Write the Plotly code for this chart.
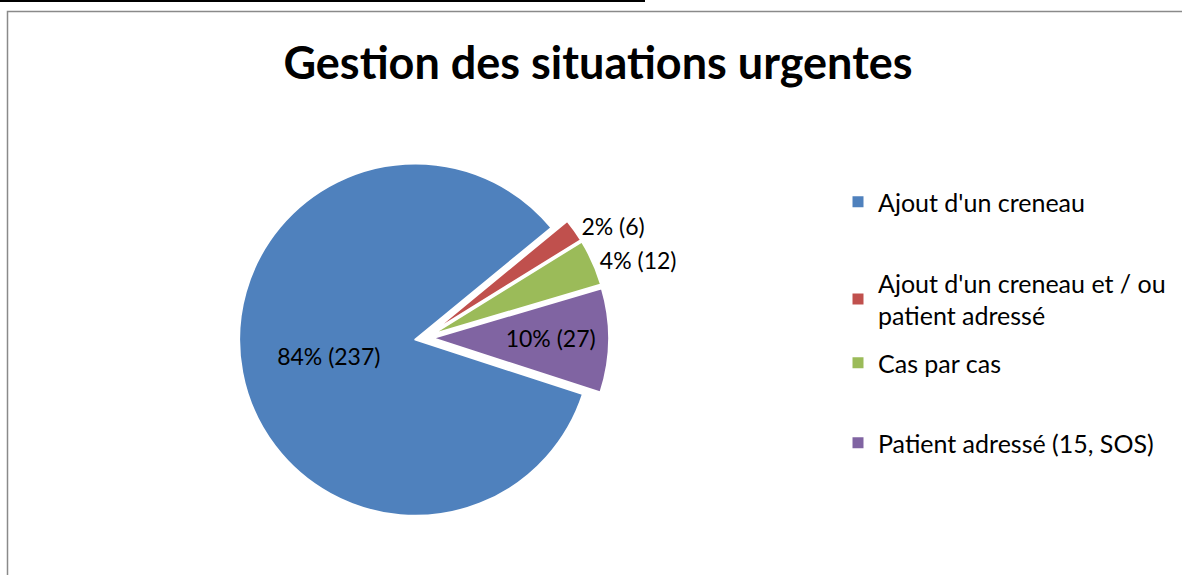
import plotly.graph_objects as go

W, H = 1182, 575

categories = ["Ajout d'un creneau", "Ajout d'un creneau et / ou patient adressé",
              "Cas par cas", "Patient adressé (15, SOS)"]
legend_labels = ["Ajout d'un creneau", "Ajout d'un creneau et / ou<br>patient adressé",
                 "Cas par cas", "Patient adressé (15, SOS)"]
counts = [237, 6, 12, 27]
colors = ["#4F81BD", "#C0504D", "#9BBB59", "#8064A2"]
legend_y_px = [202, 299, 363, 443]

FONT = "Lato"


def px_x(v):
    return v / W


def px_y(v):
    return 1 - v / H


fig = go.Figure()

fig.add_trace(go.Pie(
    labels=categories,
    values=counts,
    sort=False,
    direction="clockwise",
    rotation=108,
    pull=[0.05] * 4,
    marker=dict(colors=colors, line=dict(color="white", width=2)),
    texttemplate="%{percent:.0%} (%{value})",
    textposition=["inside", "outside", "outside", "inside"],
    insidetextorientation="horizontal",
    textfont=dict(family=FONT, size=23, color="black"),
    domain=dict(x=[px_x(239), px_x(609)], y=[px_y(523), px_y(153)]),
    showlegend=False,
    hoverinfo="label+value+percent",
))

# legend entries, one legend each so the spacing can follow the original
layout_legends = {}
for i, (lab, col) in enumerate(zip(legend_labels, colors)):
    name = "legend" if i == 0 else f"legend{i + 1}"
    fig.add_trace(go.Scatter(
        x=[None], y=[None], mode="markers", name=lab,
        marker=dict(symbol="square", size=11, color=col),
        legend=name, hoverinfo="skip",
    ))
    layout_legends[name] = dict(
        x=px_x(838), y=px_y(legend_y_px[i]), xanchor="left", yanchor="middle",
        font=dict(family=FONT, size=25, color="black"),
        bgcolor="rgba(0,0,0,0)", itemwidth=30,
    )

fig.update_layout(
    width=W, height=H,
    margin=dict(l=0, r=0, t=0, b=0),
    paper_bgcolor="white", plot_bgcolor="white",
    xaxis=dict(visible=False), yaxis=dict(visible=False),
    title=dict(text="<b>Gestion des situations urgentes</b>",
               x=px_x(598), y=px_y(63), xanchor="center", yanchor="middle",
               font=dict(family=FONT, size=45, color="black")),
    shapes=[
        dict(type="rect", xref="paper", yref="paper",
             x0=px_x(7.5), x1=px_x(1190), y0=px_y(590), y1=px_y(11.5),
             line=dict(color="#8a8a8a", width=1.5)),
        dict(type="line", xref="paper", yref="paper",
             x0=0, x1=px_x(645), y0=px_y(1), y1=px_y(1),
             line=dict(color="black", width=2)),
    ],
    **layout_legends,
)

fig.write_html("out.html", config={"displayModeBar": False},
               post_script="document.body.style.margin='0';")
